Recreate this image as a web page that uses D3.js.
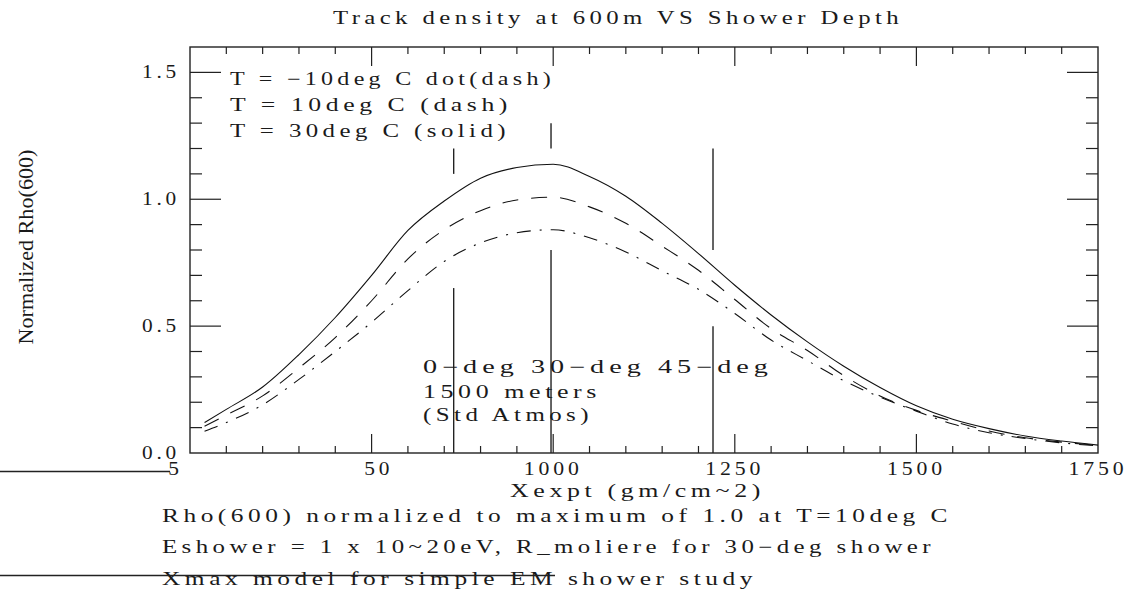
<!DOCTYPE html>
<html>
<head>
<meta charset="utf-8">
<script src="https://cdn.jsdelivr.net/npm/d3@7"></script>
<style>
  html, body { margin: 0; padding: 0; background: #fff; }
  svg { display: block; }
  text { font-family: "Liberation Serif", "DejaVu Serif", serif; fill: #1a1a1a; }
</style>
</head>
<body>
<svg id="chart" width="1138" height="592"></svg>
<script>
// ---------------- DATA ----------------
const depth = [520,550,600,650,700,750,800,850,900,950,1000,1050,1100,1150,1200,1250,1300,1350,1400,1450,1500,1550,1600,1650,1700,1750];
const rhoT30 = [0.12,0.172,0.26,0.388,0.534,0.70,0.877,0.993,1.083,1.125,1.138,1.09,1.012,0.905,0.786,0.661,0.544,0.438,0.342,0.258,0.186,0.133,0.096,0.067,0.047,0.031];
const rhoT10 = [0.105,0.15,0.225,0.335,0.455,0.60,0.765,0.88,0.955,0.997,1.008,0.97,0.905,0.815,0.72,0.605,0.49,0.404,0.305,0.225,0.168,0.125,0.087,0.06,0.043,0.03];
const rhoTm10 = [0.086,0.12,0.19,0.29,0.40,0.515,0.64,0.755,0.828,0.868,0.88,0.848,0.792,0.718,0.645,0.55,0.445,0.364,0.285,0.22,0.165,0.114,0.08,0.057,0.04,0.028];

const xMajorTicks = [500,750,1000,1250,1500,1750];
const xTickLabels = ["500","750","1000","1250","1500","1750"];
const xTickHidden = [[1,2],[0],[],[],[],[]];   // glyphs missing in the original print
const yMajorTicks = [0,0.5,1.0,1.5];
const yTickLabels = ["0.0","0.5","1.0","1.5"];

// angle markers: x position and drawn segments (y ranges)
const markerX = [863, 997, 1220];
const markerSegs = [[[1.1,1.2],[0,0.65]], [[1.2,1.3],[0,0.8]], [[0.8,1.2],[0,0.5]]];

const titleText = "Track density at 600m VS Shower Depth";
const legendLines = ["T = \u221210deg C dot(dash)", "T = 10deg C (dash)", "T = 30deg C (solid)"];
const noteLines = ["0\u2212deg 30\u2212deg   45\u2212deg", "1500 meters", "(Std Atmos)"];
const xLabel = "Xexpt (gm/cm~2)";
const yLabel = "Normalized Rho(600)";
const footLines = ["Rho(600) normalized to maximum of 1.0 at T=10deg C",
                   "Eshower = 1 x 10~20eV, R_moliere for 30\u2212deg shower",
                   "Xmax model for simple EM shower study"];

// ---------------- LAYOUT ----------------
const L = 190, R = 1098, T = 47, B = 453;
const svg = d3.select("#chart");
const x = d3.scaleLinear().domain([500,1750]).range([L,R]);
const y = d3.scaleLinear().domain([0,1.6]).range([B,T]);
const ink = "#222";

// frame
svg.append("rect").attr("x",L).attr("y",T).attr("width",R-L).attr("height",B-T)
  .attr("fill","none").attr("stroke",ink).attr("stroke-width",1.4);

// ticks
const gt = svg.append("g").attr("stroke",ink).attr("stroke-width",1.2);
d3.range(550,1750,50).forEach(v => {
  const len = (v % 250 === 0) ? 19 : 7;
  gt.append("line").attr("x1",x(v)).attr("x2",x(v)).attr("y1",B).attr("y2",B-len);
  gt.append("line").attr("x1",x(v)).attr("x2",x(v)).attr("y1",T).attr("y2",T+len);
});
d3.range(1,16).map(i => i/10).forEach(v => {
  const len = (Math.round(v*10) % 5 === 0) ? 31 : 12;
  gt.append("line").attr("x1",L).attr("x2",L+len).attr("y1",y(v)).attr("y2",y(v));
  gt.append("line").attr("x1",R).attr("x2",R-len).attr("y1",y(v)).attr("y2",y(v));
});

const LS = 3.2; // letter spacing before horizontal stretch

// x tick labels
xMajorTicks.forEach((v,i) => {
  const s = xTickLabels[i];
  const w = s.length * 15.5 - 3;
  const t = svg.append("text").attr("x",x(v) - w/2).attr("y",475)
    .attr("font-size",18).attr("letter-spacing",LS)
    .attr("textLength",w).attr("lengthAdjust","spacingAndGlyphs");
  s.split("").forEach((ch,k) => {
    t.append("tspan").text(ch).attr("fill-opacity", xTickHidden[i].includes(k) ? 0 : 1);
  });
});
// y tick labels
yMajorTicks.forEach((v,i) => {
  svg.append("text").attr("x",142).attr("y",y(v)+6)
    .attr("font-size",18).attr("letter-spacing",LS)
    .attr("textLength",38).attr("lengthAdjust","spacingAndGlyphs").text(yTickLabels[i]);
});

// curves
const line = d3.line().x(d => x(d[0])).y(d => y(d[1])).curve(d3.curveMonotoneX);
const series = [
  {vals: rhoT30, dash: null},
  {vals: rhoT10, dash: "16,13"},
  {vals: rhoTm10, dash: "14,9,2,9"}
];
series.forEach(s => {
  svg.append("path").datum(depth.map((d,i) => [d, s.vals[i]]))
    .attr("d", line).attr("fill","none").attr("stroke","#111").attr("stroke-width",1.1)
    .attr("stroke-dasharray", s.dash);
});

// angle marker lines
markerX.forEach((mx,i) => {
  markerSegs[i].forEach(seg => {
    svg.append("line").attr("x1",x(mx)).attr("x2",x(mx)).attr("y1",y(seg[0])).attr("y2",y(seg[1]))
      .attr("stroke",ink).attr("stroke-width",1.4);
  });
});

// texts
function txt(s, tx, ty, len, size) {
  return svg.append("text").attr("x",tx).attr("y",ty).attr("font-size",size||18)
    .attr("letter-spacing",LS)
    .attr("textLength",len).attr("lengthAdjust","spacingAndGlyphs").text(s);
}
txt(titleText, 333, 24, 570);
const legLen = [325, 282, 280];
legendLines.forEach((s,i) => txt(s, 230, 85 + i*26, legLen[i]));
const noteLen = [350, 178, 170];
const noteY = [373, 398, 421];
noteLines.forEach((s,i) => txt(s, 423, noteY[i], noteLen[i]));
txt(xLabel, 510, 497, 255);
const footLen = [790, 773, 595];
const footY = [522, 553, 585];
footLines.forEach((s,i) => txt(s, 162, footY[i], footLen[i]));

// y label
svg.append("text").attr("transform","translate(33,247) rotate(-90)").attr("text-anchor","middle")
  .attr("font-size",22).attr("textLength",195).attr("lengthAdjust","spacingAndGlyphs").text(yLabel);

// stray pen strokes present in the original print
svg.append("line").attr("x1",0).attr("x2",170).attr("y1",471.5).attr("y2",471.5).attr("stroke",ink).attr("stroke-width",1.3);
svg.append("line").attr("x1",0).attr("x2",555).attr("y1",575.5).attr("y2",575.5).attr("stroke",ink).attr("stroke-width",1.3);
</script>
</body>
</html>
